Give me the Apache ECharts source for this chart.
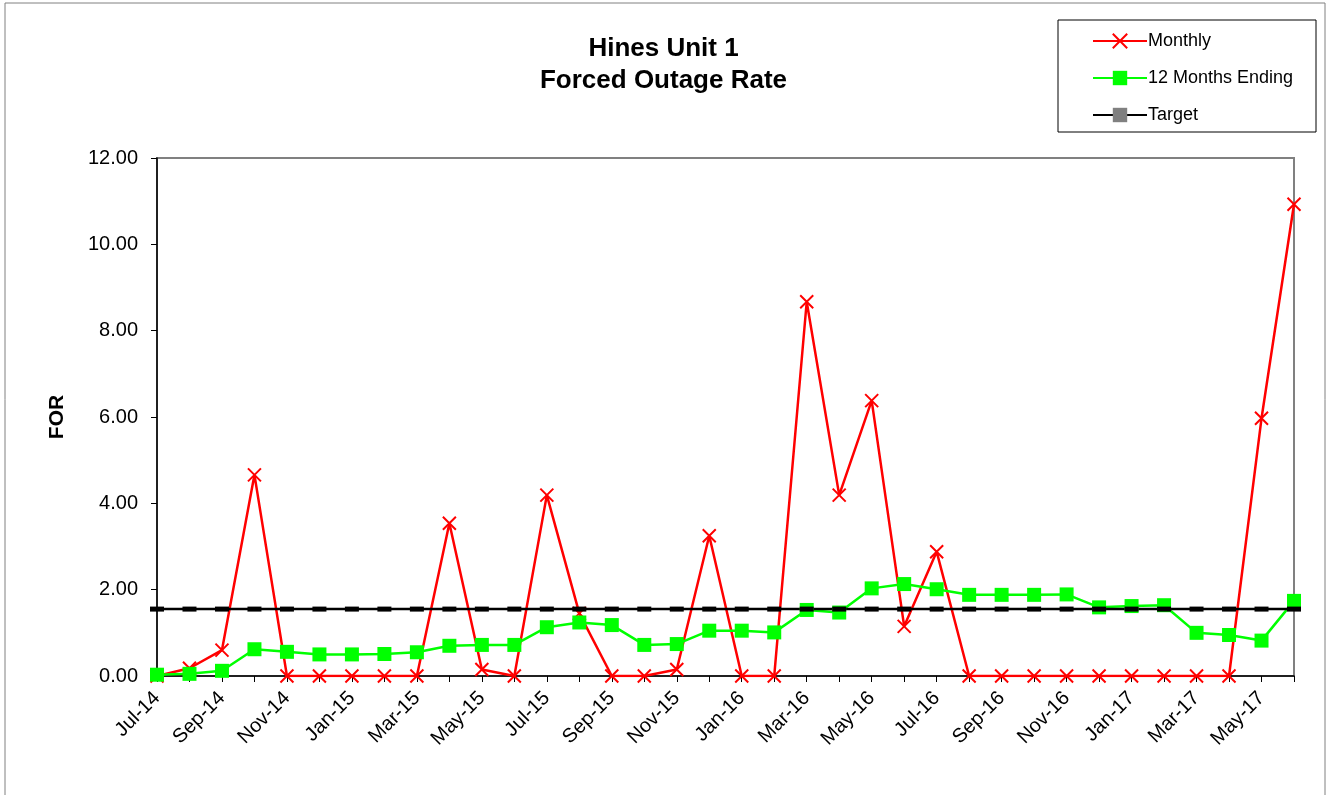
<!DOCTYPE html>
<html>
<head>
<meta charset="utf-8">
<script src="https://cdn.jsdelivr.net/npm/echarts@6/dist/echarts.min.js"></script>
<style>
html,body{margin:0;padding:0;background:#fff;}
#chart{width:1327px;height:795px;}
</style>
</head>
<body>
<div id="chart"></div>
<script>
const categories = ["Jul-14","Aug-14","Sep-14","Oct-14","Nov-14","Dec-14","Jan-15","Feb-15","Mar-15","Apr-15","May-15","Jun-15",
  "Jul-15","Aug-15","Sep-15","Oct-15","Nov-15","Dec-15","Jan-16","Feb-16","Mar-16","Apr-16","May-16","Jun-16",
  "Jul-16","Aug-16","Sep-16","Oct-16","Nov-16","Dec-16","Jan-17","Feb-17","Mar-17","Apr-17","May-17","Jun-17"];
const monthly = [0, 0.18, 0.60, 4.66, 0, 0, 0, 0, 0, 3.54, 0.15, 0,
  4.19, 1.45, 0, 0, 0.15, 3.25, 0, 0, 8.67, 4.19, 6.38, 1.15,
  2.88, 0, 0, 0, 0, 0, 0, 0, 0, 0, 5.97, 10.93];
const twelveMonths = [0.03, 0.05, 0.12, 0.62, 0.56, 0.50, 0.50, 0.51, 0.55, 0.70, 0.72, 0.72,
  1.13, 1.24, 1.18, 0.72, 0.74, 1.05, 1.05, 1.01, 1.53, 1.47, 2.03, 2.13,
  2.01, 1.88, 1.88, 1.88, 1.89, 1.59, 1.62, 1.64, 1.00, 0.95, 0.82, 1.74];
const target = [1.55, 1.55, 1.55, 1.55, 1.55, 1.55, 1.55, 1.55, 1.55, 1.55, 1.55, 1.55,
  1.55, 1.55, 1.55, 1.55, 1.55, 1.55, 1.55, 1.55, 1.55, 1.55, 1.55, 1.55,
  1.55, 1.55, 1.55, 1.55, 1.55, 1.55, 1.55, 1.55, 1.55, 1.55, 1.55, 1.55];
const yTicks = [0, 2, 4, 6, 8, 10, 12];

const FONT = '"Liberation Sans", Arial, sans-serif';
const chart = echarts.init(document.getElementById('chart'), null, {renderer: 'canvas'});
const xSymbol = 'path://M0,0L10,10M10,0L0,10';

chart.setOption({
  animation: false,
  backgroundColor: '#fff',
  textStyle: {fontFamily: FONT},
  graphic: [
    {type: 'rect', z: -10, shape: {x: 5, y: 3, width: 1320, height: 820},
      style: {fill: '#fff', stroke: '#808080', lineWidth: 1}},
    {type: 'rect', z: 0, shape: {x: 1058, y: 20, width: 258, height: 112},
      style: {fill: '#fff', stroke: '#000', lineWidth: 1}}
  ],
  title: {
    text: 'Hines Unit 1\nForced Outage Rate',
    left: 'center',
    top: 28,
    textStyle: {fontFamily: FONT, fontSize: 26, fontWeight: 'bold', color: '#000', lineHeight: 32}
  },
  legend: {
    orient: 'vertical',
    left: 1087,
    top: 27,
    z: 5,
    itemWidth: 54,
    itemHeight: 18,
    itemGap: 19,
    textStyle: {fontFamily: FONT, fontSize: 18, color: '#000', padding: [0,0,0,-4]},
    data: [
      {name: 'Monthly'},
      {name: '12 Months Ending'},
      {name: 'Target', itemStyle: {color: '#808080'}}
    ]
  },
  grid: {
    left: 157, right: 33, top: 158, bottom: 119,
    show: true, borderColor: '#808080', borderWidth: 2, backgroundColor: '#fff'
  },
  xAxis: {
    type: 'category',
    data: categories,
    boundaryGap: false,
    axisLine: {lineStyle: {color: '#000', width: 1.5}},
    axisTick: {show: true, interval: 0, length: 6, lineStyle: {color: '#000'}},
    axisLabel: {interval: 1, rotate: 45, fontFamily: FONT, fontSize: 20, color: '#000', margin: 19},
    splitLine: {show: false}
  },
  yAxis: {
    type: 'value',
    min: yTicks[0], max: yTicks[yTicks.length - 1], interval: 2,
    name: 'FOR',
    nameLocation: 'middle',
    nameGap: 89,
    nameTextStyle: {fontFamily: FONT, fontSize: 21, fontWeight: 'bold', color: '#000'},
    axisLine: {show: true, lineStyle: {color: '#000', width: 1.5}},
    axisTick: {show: true, length: 6, lineStyle: {color: '#000'}},
    axisLabel: {fontFamily: FONT, fontSize: 20, color: '#000', margin: 19,
      formatter: v => v.toFixed(2)},
    splitLine: {show: false}
  },
  series: [
    {
      name: 'Monthly', type: 'line', data: monthly,
      symbol: xSymbol, symbolSize: 13, showAllSymbol: true,
      lineStyle: {color: '#ff0000', width: 2.5},
      itemStyle: {color: '#ff0000', borderColor: '#ff0000', borderWidth: 2}
    },
    {
      name: '12 Months Ending', type: 'line', data: twelveMonths,
      symbol: 'rect', symbolSize: 14, showAllSymbol: true,
      lineStyle: {color: '#00ff00', width: 2.5},
      itemStyle: {color: '#00ff00'}
    },
    {
      name: 'Target', type: 'line', data: target,
      symbol: 'rect', symbolSize: [14, 5], showAllSymbol: true,
      lineStyle: {color: '#000', width: 2.5},
      itemStyle: {color: '#000'}
    }
  ]
});
</script>
</body>
</html>
